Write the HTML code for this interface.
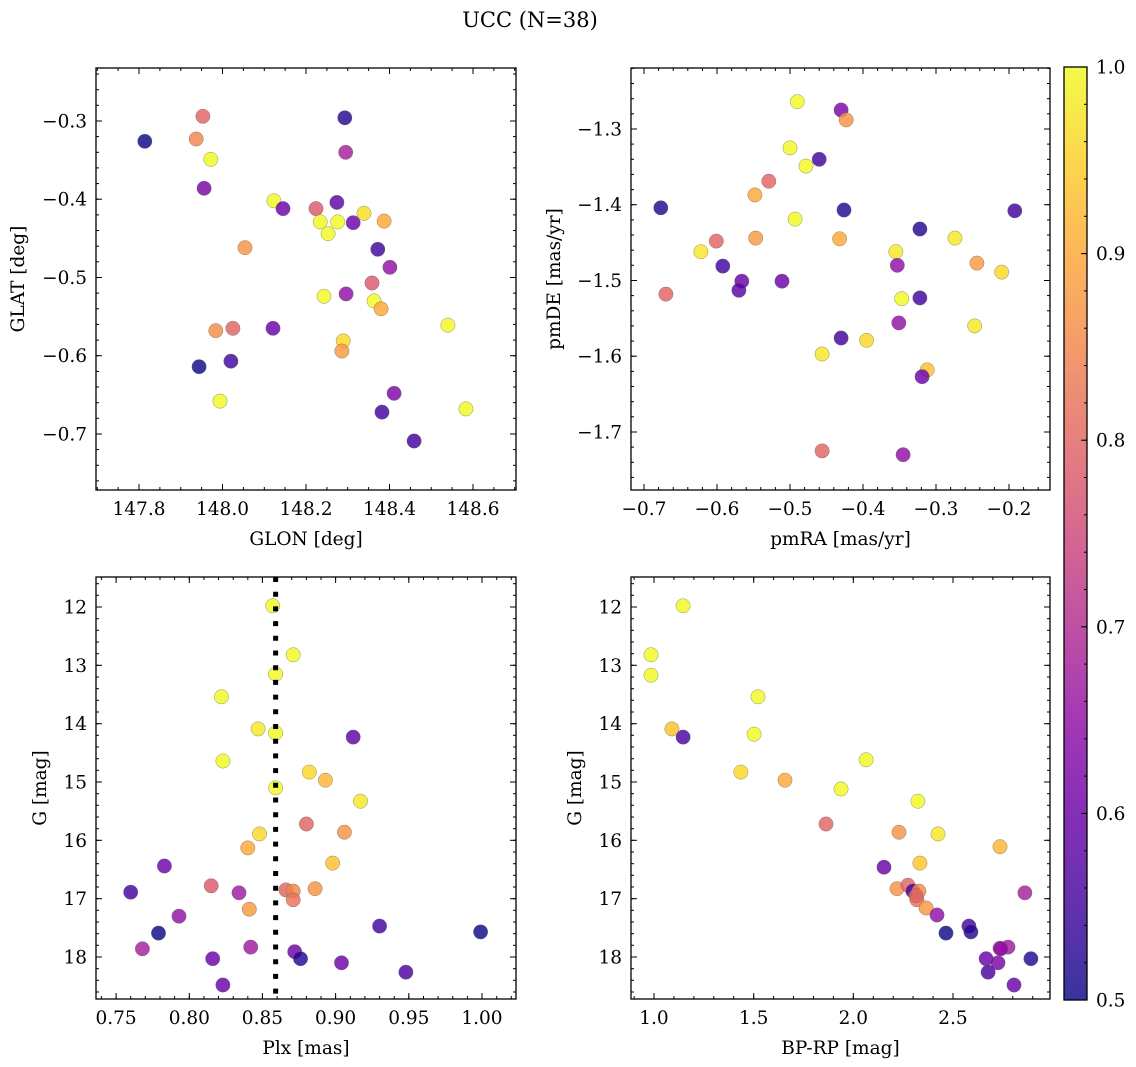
<!DOCTYPE html>
<html><head><meta charset="utf-8">
<style>
html,body{margin:0;padding:0;background:#fff;}
svg{display:block;}
text{font-family:"DejaVu Serif","Liberation Serif",serif;fill:#000;}
</style></head>
<body>
<svg id="fig" width="1136" height="1067" viewBox="0 0 1136 1067" xmlns="http://www.w3.org/2000/svg">
<defs>
<linearGradient id="plasmaGrad" x1="0" y1="1" x2="0" y2="0">
<stop offset="0" stop-color="#0d0887"/><stop offset="0.1" stop-color="#41049d"/><stop offset="0.2" stop-color="#6a00a8"/><stop offset="0.3" stop-color="#8f0da4"/><stop offset="0.4" stop-color="#b12a90"/><stop offset="0.5" stop-color="#cc4778"/><stop offset="0.6" stop-color="#e16462"/><stop offset="0.7" stop-color="#f2844b"/><stop offset="0.8" stop-color="#fca636"/><stop offset="0.9" stop-color="#fcce25"/><stop offset="1" stop-color="#f0f921"/>
</linearGradient>
</defs>
<text x="530" y="27" font-size="21" text-anchor="middle">UCC (N=38)</text>
</svg>
<script>
// ---- Panel 1: GLON vs GLAT ----
const glon = [147.814,147.953,147.937,147.972,147.956,148.293,148.295,148.123,148.145,148.224,148.274,148.234,148.276,148.253,148.313,148.339,148.387,148.054,148.372,148.401,148.358,148.243,148.296,148.363,148.380,147.984,148.025,148.121,148.289,148.286,148.540,147.944,148.020,147.994,148.382,148.411,148.583,148.459];
const glat = [-0.326,-0.294,-0.323,-0.349,-0.386,-0.296,-0.340,-0.402,-0.412,-0.412,-0.404,-0.429,-0.429,-0.444,-0.430,-0.418,-0.428,-0.462,-0.464,-0.487,-0.507,-0.524,-0.521,-0.530,-0.540,-0.568,-0.565,-0.565,-0.581,-0.594,-0.561,-0.614,-0.607,-0.658,-0.672,-0.648,-0.668,-0.709];
const prob1 = [0.5,0.8,0.85,1.0,0.62,0.52,0.68,1.0,0.6,0.78,0.58,1.0,1.0,1.0,0.6,0.97,0.9,0.87,0.55,0.65,0.78,1.0,0.65,1.0,0.9,0.86,0.8,0.6,0.96,0.88,1.0,0.5,0.55,1.0,0.55,0.62,1.0,0.55];
// ---- Panel 2: pmRA vs pmDE ----
const pmra = [-0.490,-0.430,-0.423,-0.500,-0.460,-0.478,-0.529,-0.548,-0.677,-0.426,-0.192,-0.493,-0.322,-0.601,-0.547,-0.432,-0.274,-0.622,-0.355,-0.592,-0.353,-0.244,-0.210,-0.566,-0.511,-0.570,-0.670,-0.347,-0.322,-0.247,-0.351,-0.430,-0.395,-0.456,-0.312,-0.319,-0.456,-0.345];
const pmde = [-1.264,-1.275,-1.288,-1.325,-1.340,-1.349,-1.369,-1.387,-1.404,-1.407,-1.408,-1.419,-1.432,-1.448,-1.444,-1.445,-1.444,-1.462,-1.462,-1.481,-1.480,-1.477,-1.489,-1.501,-1.501,-1.513,-1.518,-1.524,-1.523,-1.560,-1.556,-1.576,-1.579,-1.597,-1.618,-1.627,-1.725,-1.730];
const prob2 = [1.0,0.62,0.87,1.0,0.55,1.0,0.8,0.9,0.52,0.52,0.55,1.0,0.52,0.8,0.88,0.9,0.98,0.98,0.98,0.55,0.65,0.88,0.96,0.6,0.6,0.58,0.8,1.0,0.55,0.98,0.65,0.55,0.96,0.98,0.93,0.6,0.8,0.65];
// ---- Panel 3: Plx vs G ----
const plx = [0.857,0.871,0.859,0.822,0.847,0.859,0.912,0.823,0.882,0.893,0.859,0.917,0.880,0.906,0.848,0.840,0.898,0.783,0.760,0.815,0.834,0.866,0.871,0.871,0.886,0.841,0.793,0.930,0.999,0.779,0.768,0.842,0.872,0.876,0.816,0.904,0.948,0.823];
const gmag3 = [11.98,12.82,13.15,13.54,14.09,14.16,14.23,14.64,14.83,14.97,15.10,15.33,15.72,15.86,15.89,16.13,16.39,16.44,16.89,16.78,16.90,16.85,16.87,17.02,16.83,17.18,17.30,17.47,17.57,17.59,17.86,17.83,17.91,18.03,18.03,18.10,18.26,18.48];
const prob3 = [1.0,1.0,1.0,1.0,0.98,1.0,0.58,1.0,0.96,0.92,1.0,0.98,0.8,0.87,0.96,0.9,0.93,0.6,0.55,0.78,0.67,0.8,0.85,0.82,0.87,0.88,0.65,0.55,0.5,0.5,0.68,0.67,0.6,0.52,0.6,0.6,0.56,0.6];
const plxMean = [0.859];
// ---- Panel 4: BP-RP vs G ----
const bprp = [1.146,0.985,0.985,1.522,1.090,1.146,1.502,1.436,1.657,1.938,2.064,1.863,2.324,2.229,2.425,2.736,2.154,2.334,2.861,2.219,2.274,2.299,2.329,2.319,2.365,2.420,2.465,2.580,2.590,2.736,2.776,2.666,2.726,2.676,2.891,2.806,2.315,2.740];
const gmag4 = [11.98,12.82,13.17,13.54,14.09,14.23,14.18,14.83,14.97,15.12,14.62,15.72,15.33,15.86,15.89,16.11,16.46,16.39,16.90,16.83,16.77,16.87,16.87,17.02,17.16,17.28,17.59,17.47,17.57,17.85,17.83,18.03,18.10,18.26,18.03,18.48,16.95,17.86];
const prob4 = [1.0,1.0,1.0,1.0,0.93,0.56,1.0,0.96,0.9,1.0,1.0,0.8,1.0,0.87,0.98,0.92,0.6,0.94,0.68,0.87,0.8,0.55,0.86,0.82,0.88,0.65,0.5,0.56,0.52,0.68,0.67,0.6,0.62,0.56,0.52,0.6,0.8,0.65];
// ---- Tick labels ----
const ticks1x = [147.8,148.0,148.2,148.4,148.6];
const ticks1y = [-0.3,-0.4,-0.5,-0.6,-0.7];
const ticks2x = [-0.7,-0.6,-0.5,-0.4,-0.3,-0.2];
const ticks2y = [-1.3,-1.4,-1.5,-1.6,-1.7];
const ticks3x = [0.75,0.80,0.85,0.90,0.95,1.00];
const ticksG = [12,13,14,15,16,17,18];
const ticks4x = [1.0,1.5,2.0,2.5];
const ticksCb = [0.5,0.6,0.7,0.8,0.9,1.0];

const NS = "http://www.w3.org/2000/svg";
const svg = document.getElementById('fig');
function mk(tag, attrs, parent){
  const e = document.createElementNS(NS, tag);
  for (const k in attrs) e.setAttribute(k, attrs[k]);
  (parent||svg).appendChild(e);
  return e;
}
const stops = [[13,8,135],[65,4,157],[106,0,168],[143,13,164],[177,42,144],[204,71,120],[225,100,98],[242,132,75],[252,166,54],[252,206,37],[240,249,33]];
function plasma(p){
  let t = Math.max(0, Math.min(1, (p-0.5)/0.5))*10;
  const i = Math.min(9, Math.floor(t)), f = t - i;
  const a = stops[i], b = stops[i+1];
  return 'rgb(' + [0,1,2].map(k=>Math.round(a[k]+(b[k]-a[k])*f)).join(',') + ')';
}
function fmt(v, dec){
  const s = Math.abs(v).toFixed(dec);
  return (v < -1e-9 ? '\u2212' : '') + s;
}
const FS = 18.5;

function panel(cfg){
  const {name,L,R,T,B,xd,yd,xt,yt,xdec,ydec,xminor,yminor,xs,ys,ps,xlabel,ylabel,ylabX} = cfg;
  const sx = v => L + (v - xd[0])/(xd[1]-xd[0])*(R-L);
  const sy = v => B - (v - yd[0])/(yd[1]-yd[0])*(B-T);
  const g = mk('g', {});
  
  
  const pg = mk('g', {}, g);
  
  
  for (let i = 0; i < xs.length; i++){
    const c = mk('circle', {cx: sx(xs[i]).toFixed(1), cy: sy(ys[i]).toFixed(1), r: 7.2, fill: plasma(ps[i]), 'fill-opacity': 0.82, stroke: '#666', 'stroke-width': 0.5, 'stroke-opacity': 0.7}, pg);
    
    
  }
  if (cfg.extra) cfg.extra(g, sx, sy);
  const tg = mk('g', {stroke: '#000', 'stroke-width': 1}, g);
  const xmin = Math.min(xd[0],xd[1]), xmax = Math.max(xd[0],xd[1]);
  const ymin = Math.min(yd[0],yd[1]), ymax = Math.max(yd[0],yd[1]);
  for (let v = Math.ceil(xmin/xminor)*xminor; v <= xmax; v += xminor){
    const x = sx(v).toFixed(1);
    mk('line', {x1:x, x2:x, y1:B, y2:B-3}, tg); mk('line', {x1:x, x2:x, y1:T, y2:T+3}, tg);
  }
  for (let v = Math.ceil(ymin/yminor)*yminor; v <= ymax; v += yminor){
    const y = sy(v).toFixed(1);
    mk('line', {y1:y, y2:y, x1:L, x2:L+3}, tg); mk('line', {y1:y, y2:y, x1:R, x2:R-3}, tg);
  }
  xt.forEach(v => {
    const x = sx(v).toFixed(1);
    mk('line', {x1:x, x2:x, y1:B, y2:B-6}, tg); mk('line', {x1:x, x2:x, y1:T, y2:T+6}, tg);
    const t = mk('text', {x: x, y: B+25, 'font-size': FS, 'text-anchor': 'middle'}, g);
    t.textContent = fmt(v, xdec);
    
    
  });
  yt.forEach(v => {
    const y = sy(v);
    mk('line', {y1:y.toFixed(1), y2:y.toFixed(1), x1:L, x2:L+6}, tg); mk('line', {y1:y.toFixed(1), y2:y.toFixed(1), x1:R, x2:R-6}, tg);
    const t = mk('text', {x: L-9, y: (y+6.5).toFixed(1), 'font-size': FS, 'text-anchor': 'end'}, g);
    t.textContent = fmt(v, ydec);
    
    
  });
  const fr = mk('rect', {x:L, y:T, width:R-L, height:B-T, fill:'none', stroke:'#000', 'stroke-width':1.3}, g);
  
  
  const xl = mk('text', {x:(L+R)/2, y:B+55, 'font-size':FS, 'text-anchor':'middle'}, g);
  xl.textContent = xlabel;
  
  
  const yc = (T+B)/2;
  const yl = mk('text', {x:ylabX, y:yc, 'font-size':FS, 'text-anchor':'middle', transform:'rotate(-90 '+ylabX+' '+yc+')'}, g);
  yl.textContent = ylabel;
  
  
}

panel({name:'glon-glat-panel', L:96,R:516,T:68,B:490, xd:[147.697,148.703], yd:[-0.7716,-0.2323], xt:ticks1x, yt:ticks1y, xdec:1, ydec:1, xminor:0.05, yminor:0.02, xs:glon, ys:glat, ps:prob1, xlabel:'GLON [deg]', ylabel:'GLAT [deg]', ylabX:24});
panel({name:'pm-panel', L:631,R:1050,T:68,B:490, xd:[-0.7178,-0.1438], yd:[-1.7766,-1.2195], xt:ticks2x, yt:ticks2y, xdec:1, ydec:1, xminor:0.02, yminor:0.02, xs:pmra, ys:pmde, ps:prob2, xlabel:'pmRA [mas/yr]', ylabel:'pmDE [mas/yr]', ylabX:560});
panel({name:'plx-g-panel', L:96,R:516,T:577,B:999, xd:[0.7363,1.0232], yd:[18.72,11.486], xt:ticks3x, yt:ticksG, xdec:2, ydec:0, xminor:0.01, yminor:0.2, xs:plx, ys:gmag3, ps:prob3, xlabel:'Plx [mas]', ylabel:'G [mag]', ylabX:46,
  extra:(g,sx,sy)=>{ plxMean.forEach(v=>{ const l = mk('line',{x1:sx(v),x2:sx(v),y1:577,y2:999,stroke:'#000','stroke-width':5,'stroke-dasharray':'5 9.7'},g);   }); }});
panel({name:'cmd-panel', L:631,R:1050,T:577,B:999, xd:[0.8846,2.9867], yd:[18.72,11.486], xt:ticks4x, yt:ticksG, xdec:1, ydec:0, xminor:0.1, yminor:0.2, xs:bprp, ys:gmag4, ps:prob4, xlabel:'BP-RP [mag]', ylabel:'G [mag]', ylabX:581});

// ---- Colorbar ----
const cb = mk('g', {});


const cbT = 67, cbB = 1000, cbL = 1064, cbR = 1087;
mk('rect', {x:cbL, y:cbT, width:cbR-cbL, height:cbB-cbT, fill:'url(#plasmaGrad)', 'fill-opacity':0.82}, cb);
mk('rect', {x:cbL, y:cbT, width:cbR-cbL, height:cbB-cbT, fill:'none', stroke:'#000', 'stroke-width':1.3}, cb);
const cy = v => cbB - (v-0.5)/0.5*(cbB-cbT);
for (let v = 0.5; v <= 1.0001; v += 0.02){
  mk('line', {x1:cbR, x2:cbR-3, y1:cy(v).toFixed(1), y2:cy(v).toFixed(1), stroke:'#000','stroke-width':1}, cb);
}
ticksCb.forEach(v=>{
  mk('line', {x1:cbR, x2:cbR-6, y1:cy(v), y2:cy(v), stroke:'#000','stroke-width':1}, cb);
  const t = mk('text', {x:1096, y:cy(v)+6.5, 'font-size':FS}, cb);
  t.textContent = v.toFixed(1);
  
  
});
</script>
</body></html>
